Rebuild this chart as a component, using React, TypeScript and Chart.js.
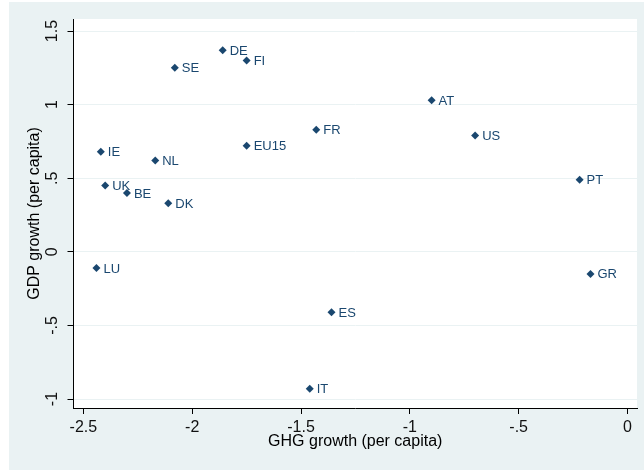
import React, { useEffect, useRef } from "react";
import { Chart, registerables } from "chart.js";

Chart.register(...registerables);

const countries = ["DE", "FI", "SE", "AT", "FR", "US", "EU15", "IE", "NL", "PT", "UK", "BE", "DK", "LU", "GR", "ES", "IT"];
const ghgGrowth = [-1.86, -1.75, -2.08, -0.90, -1.43, -0.70, -1.75, -2.42, -2.17, -0.22, -2.40, -2.30, -2.11, -2.44, -0.17, -1.36, -1.46];
const gdpGrowth = [1.37, 1.30, 1.25, 1.03, 0.83, 0.79, 0.72, 0.68, 0.62, 0.49, 0.45, 0.40, 0.33, -0.11, -0.15, -0.41, -0.93];
const xTicks = [-2.5, -2, -1.5, -1, -0.5, 0];
const yTicks = [-1, -0.5, 0, 0.5, 1, 1.5];
const xTitle = "GHG growth (per capita)";
const yTitle = "GDP growth (per capita)";

const FONT = '"Liberation Sans", Arial, sans-serif';
const NAVY = "#1a476f";
const BG = "#eaf2f3";

const fmt = (v: number) => {
  const s = String(v);
  return s.replace(/^0\./, ".").replace(/^-0\./, "-.");
};

const bgPlugin = {
  id: "stataBg",
  beforeDraw(chart: any) {
    const { ctx, width, height, chartArea } = chart;
    ctx.save();
    ctx.fillStyle = "#ffffff";
    ctx.fillRect(0, 0, width, height);
    ctx.fillStyle = BG;
    ctx.fillRect(9, 2, width - 9, height - 2);
    ctx.fillStyle = "#ffffff";
    ctx.fillRect(chartArea.left, chartArea.top, chartArea.right - chartArea.left, chartArea.bottom - chartArea.top);
    ctx.restore();
  },
};

const labelPlugin = {
  id: "pointLabels",
  afterDatasetsDraw(chart: any) {
    const { ctx } = chart;
    const meta = chart.getDatasetMeta(0);
    ctx.save();
    ctx.font = `13px ${FONT}`;
    ctx.fillStyle = NAVY;
    ctx.textAlign = "left";
    ctx.textBaseline = "middle";
    meta.data.forEach((pt: any, i: number) => {
      ctx.fillText(countries[i], pt.x + 7, pt.y + 1);
    });
    ctx.restore();
  },
};

export default function App() {
  const ref = useRef<HTMLCanvasElement | null>(null);
  useEffect(() => {
    if (!ref.current) return;
    const chart = new Chart(ref.current, {
      type: "scatter",
      data: {
        datasets: [
          {
            data: ghgGrowth.map((x, i) => ({ x, y: gdpGrowth[i] })),
            pointStyle: "rectRot",
            pointRadius: 4,
            pointBackgroundColor: NAVY,
            pointBorderColor: NAVY,
            pointBorderWidth: 0,
          },
        ],
      },
      options: {
        responsive: false,
        animation: false,
        layout: { padding: { left: 28.7, right: 7, top: 19, bottom: 28.4 } },
        plugins: { legend: { display: false }, tooltip: { enabled: false } },
        scales: {
          x: {
            type: "linear",
            min: -2.5455,
            max: 0.0437,
            afterBuildTicks: (s: any) => {
              s.ticks = xTicks.map((v) => ({ value: v }));
            },
            ticks: {
              callback: (v: any) => fmt(Number(v)),
              color: "#111",
              font: { family: FONT, size: 16, lineHeight: 1.225 },
              padding: 4,
              maxRotation: 0,
              minRotation: 0,
            },
            grid: {
              drawOnChartArea: false,
              drawTicks: true,
              tickLength: 6,
              tickColor: "#000",
              tickWidth: 1,
            },
            border: { display: true, color: "#000", width: 1 },
            title: {
              display: true,
              text: xTitle,
              color: "#000",
              font: { family: FONT, size: 16, lineHeight: 0 },
              padding: 0,
            },
          },
          y: {
            type: "linear",
            min: -1.061,
            max: 1.582,
            afterBuildTicks: (s: any) => {
              s.ticks = yTicks.map((v) => ({ value: v }));
            },
            ticks: {
              callback: (v: any) => fmt(Number(v)),
              color: "#111",
              font: { family: FONT, size: 16, lineHeight: 1.2 },
              padding: 4,
              minRotation: 90,
              maxRotation: 90,
              crossAlign: "center",
            },
            grid: {
              color: BG,
              lineWidth: 1,
              drawOnChartArea: true,
              drawTicks: true,
              tickLength: 6,
              tickColor: "#000",
              tickWidth: 1,
            },
            border: { display: true, color: "#000", width: 1 },
            title: {
              display: true,
              text: yTitle,
              color: "#000",
              font: { family: FONT, size: 16, lineHeight: 0.725 },
              padding: 0,
            },
          },
        },
      },
      plugins: [bgPlugin, labelPlugin],
    } as any);
    return () => chart.destroy();
  }, []);
  return (
    <div style={{ position: "fixed", left: 0, top: 0, width: 644, height: 470 }}>
      <canvas ref={ref} width={644} height={470} style={{ display: "block" }} />
    </div>
  );
}
